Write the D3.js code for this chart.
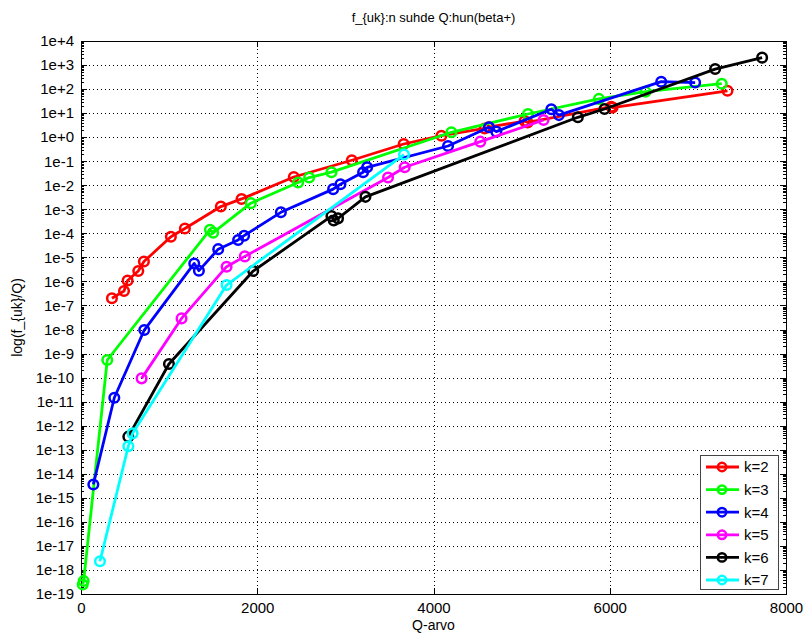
<!DOCTYPE html>
<html>
<head>
<meta charset="utf-8">
<script src="https://cdn.jsdelivr.net/npm/d3@7"></script>
<style>
  body { margin: 0; background: #fff; }
  text { font-family: "Liberation Sans", Arial, sans-serif; }
</style>
</head>
<body>
<div id="chart"></div>
<script>
// data
const seriesNames = ["k=2", "k=3", "k=4", "k=5", "k=6", "k=7"];
const seriesColors = ["#ff0000", "#00ff00", "#0000ff", "#ff00ff", "#000000", "#00ffff"];

const k2x = [351, 488, 529, 650, 714, 1020, 1179, 1587, 1822, 2415, 3073, 3662, 4090, 4580, 4626, 5034, 5068, 6017, 6032, 7336];
const k2y = [2.0e-7, 4.0e-7, 1.1e-6, 2.7e-6, 6.7e-6, 7.2e-5, 1.6e-4, 1.3e-3, 2.7e-3, 2.2e-2, 0.11, 0.52, 1.15, 2.3, 2.6, 4.7, 4.1, 18.5, 17, 85];

const k3x = [20, 30, 298, 1463, 1500, 1927, 2464, 2589, 2842, 4203, 5072, 5877, 6406, 7271];
const k3y = [2.5e-19, 3.5e-19, 5.4e-10, 1.4e-4, 1.07e-4, 1.8e-3, 0.013, 0.021, 0.035, 1.6, 9.2, 39, 78, 167];

const k4x = [140, 378, 718, 1285, 1338, 1557, 1783, 1851, 2268, 2861, 2944, 3201, 3247, 4165, 4630, 4713, 5337, 5423, 6584, 6969];
const k4y = [3.6e-15, 1.45e-11, 9.5e-9, 5.6e-6, 2.8e-6, 2.2e-5, 5.3e-5, 8e-5, 7.5e-4, 6.9e-3, 0.011, 0.035, 0.056, 0.43, 2.6, 1.7, 14.5, 8.3, 203, 187];

const k5x = [688, 1141, 1652, 1859, 3484, 3673, 4531, 5249];
const k5y = [9.3e-11, 2.9e-8, 4.1e-6, 1.1e-5, 0.021, 0.056, 0.65, 5.2];

const k6x = [537, 998, 1954, 2842, 2868, 2917, 3228, 5638, 5941, 7196, 7729];
const k6y = [3.5e-13, 3.7e-10, 2.7e-6, 5.2e-4, 3.4e-4, 4.2e-4, 3.3e-3, 6.7, 14.8, 680, 2030];

const k7x = [215, 537, 586, 1652, 3665];
const k7y = [2.3e-18, 1.4e-13, 4.8e-13, 7.1e-7, 0.19];

const xTicks = [0, 2000, 4000, 6000, 8000];
const yExponents = d3.range(-19, 5);

const allX = [k2x, k3x, k4x, k5x, k6x, k7x];
const allY = [k2y, k3y, k4y, k5y, k6y, k7y];

//svg size and plot box
let w = 803, h = 638;
let pLeft = 81, pRight = 786, pTop = 41, pBottom = 594;

let svg = d3.select("#chart").append("svg")
    .attr("width", w)
    .attr("height", h);

let xScale = d3.scaleLinear().domain([0, 8000]).range([pLeft, pRight]);
let yScale = d3.scaleLog().domain([1e-19, 1e4]).range([pBottom, pTop]);

//grid lines
let grid = svg.append("g")
    .attr("stroke", "#000")
    .attr("stroke-width", 1)
    .attr("stroke-dasharray", "1,3")
    .attr("shape-rendering", "crispEdges");

grid.selectAll(".gx")
    .data(xTicks.slice(1, -1))
    .enter().append("line")
    .attr("x1", d => Math.round(xScale(d)) + 0.5)
    .attr("x2", d => Math.round(xScale(d)) + 0.5)
    .attr("y1", pTop).attr("y2", pBottom);

grid.selectAll(".gy")
    .data(yExponents.slice(1, -1))
    .enter().append("line")
    .attr("x1", pLeft).attr("x2", pRight)
    .attr("y1", d => Math.round(yScale(Math.pow(10, d))) + 0.5)
    .attr("y2", d => Math.round(yScale(Math.pow(10, d))) + 0.5);

//minor ticks on log axis (inside, left and right)
let minor = [];
yExponents.slice(0, -1).forEach(e => {
    for (let m = 2; m <= 9; m++) minor.push(m * Math.pow(10, e));
});

let tickG = svg.append("g")
    .attr("stroke", "#000")
    .attr("stroke-width", 1)
    .attr("shape-rendering", "crispEdges");

[[pLeft, 1], [pRight, -1]].forEach(([x0, dir]) => {
    tickG.selectAll(null)
        .data(minor)
        .enter().append("line")
        .attr("x1", x0).attr("x2", x0 + dir * 3)
        .attr("y1", d => Math.round(yScale(d)) + 0.5)
        .attr("y2", d => Math.round(yScale(d)) + 0.5);
    tickG.selectAll(null)
        .data(yExponents)
        .enter().append("line")
        .attr("x1", x0).attr("x2", x0 + dir * 6)
        .attr("y1", d => Math.round(yScale(Math.pow(10, d))) + 0.5)
        .attr("y2", d => Math.round(yScale(Math.pow(10, d))) + 0.5);
});

[[pBottom, -1], [pTop, 1]].forEach(([y0, dir]) => {
    tickG.selectAll(null)
        .data(xTicks)
        .enter().append("line")
        .attr("x1", d => Math.round(xScale(d)) + 0.5)
        .attr("x2", d => Math.round(xScale(d)) + 0.5)
        .attr("y1", y0).attr("y2", y0 + dir * 6);
});

//axes (labels only, ticks drawn above)
let yAxis = d3.axisLeft(yScale)
    .tickValues(yExponents.map(e => Math.pow(10, e)))
    .tickFormat(d => {
        let e = Math.round(Math.log10(d));
        return e >= 0 ? "1e+" + e : "1e" + e;
    })
    .tickSize(0)
    .tickPadding(7);

svg.append("g")
    .attr("transform", `translate(${pLeft},0)`)
    .call(yAxis)
    .call(g => g.select(".domain").remove())
    .selectAll("text")
    .attr("font-size", "15px")
    .attr("font-family", "Liberation Sans, Arial, sans-serif")
    .attr("fill", "#000");

let xAxis = d3.axisBottom(xScale)
    .tickValues(xTicks)
    .tickFormat(d3.format("d"))
    .tickSize(0)
    .tickPadding(8);

svg.append("g")
    .attr("transform", `translate(0,${pBottom})`)
    .call(xAxis)
    .call(g => g.select(".domain").remove())
    .selectAll("text")
    .attr("font-size", "15px")
    .attr("font-family", "Liberation Sans, Arial, sans-serif")
    .attr("fill", "#000");

//box
svg.append("rect")
    .attr("x", pLeft + 0.5).attr("y", pTop + 0.5)
    .attr("width", pRight - pLeft).attr("height", pBottom - pTop)
    .attr("fill", "none")
    .attr("stroke", "#000")
    .attr("stroke-width", 1)
    .attr("shape-rendering", "crispEdges");

//series
let line = d3.line().x(d => xScale(d[0])).y(d => yScale(d[1]));

seriesNames.forEach((name, i) => {
    let pts = allX[i].map((x, j) => [x, allY[i][j]]);
    let g = svg.append("g");
    g.append("path")
        .datum(pts)
        .attr("d", line)
        .attr("fill", "none")
        .attr("stroke", seriesColors[i])
        .attr("stroke-width", 2.8)
        .attr("stroke-linejoin", "round");
    g.selectAll("circle")
        .data(pts)
        .enter().append("circle")
        .attr("cx", d => xScale(d[0]))
        .attr("cy", d => yScale(d[1]))
        .attr("r", 4.8)
        .attr("fill", "none")
        .attr("stroke", seriesColors[i])
        .attr("stroke-width", 2.5);
});

//legend
let lg = svg.append("g");
lg.append("rect")
    .attr("x", 700.5).attr("y", 455.5)
    .attr("width", 78).attr("height", 134)
    .attr("fill", "#fff")
    .attr("stroke", "#444")
    .attr("stroke-width", 1);

let item = lg.selectAll(".item")
    .data(seriesNames)
    .enter().append("g")
    .attr("transform", (d, i) => `translate(0, ${467 + i * 22.6})`);

item.append("line")
    .attr("x1", 706).attr("x2", 739)
    .attr("y1", 0).attr("y2", 0)
    .attr("stroke", (d, i) => seriesColors[i])
    .attr("stroke-width", 2.8);

item.append("circle")
    .attr("cx", 722).attr("cy", 0).attr("r", 4.2)
    .attr("fill", "none")
    .attr("stroke", (d, i) => seriesColors[i])
    .attr("stroke-width", 2.5);

item.append("text")
    .attr("x", 744).attr("y", 0).attr("dy", "0.36em")
    .attr("font-size", "15px")
    .text(d => d);

//title and axis labels
svg.append("text")
    .attr("x", (pLeft + pRight) / 2).attr("y", 22)
    .attr("text-anchor", "middle")
    .attr("font-size", "13px")
    .text("f_{uk}:n suhde Q:hun(beta+)");

svg.append("text")
    .attr("x", (pLeft + pRight) / 2).attr("y", 630)
    .attr("text-anchor", "middle")
    .attr("font-size", "14px")
    .text("Q-arvo");

svg.append("text")
    .attr("transform", `translate(22, ${(pTop + pBottom) / 2}) rotate(-90)`)
    .attr("text-anchor", "middle")
    .attr("font-size", "14px")
    .text("log(f_{uk}/Q)");
</script>
</body>
</html>
